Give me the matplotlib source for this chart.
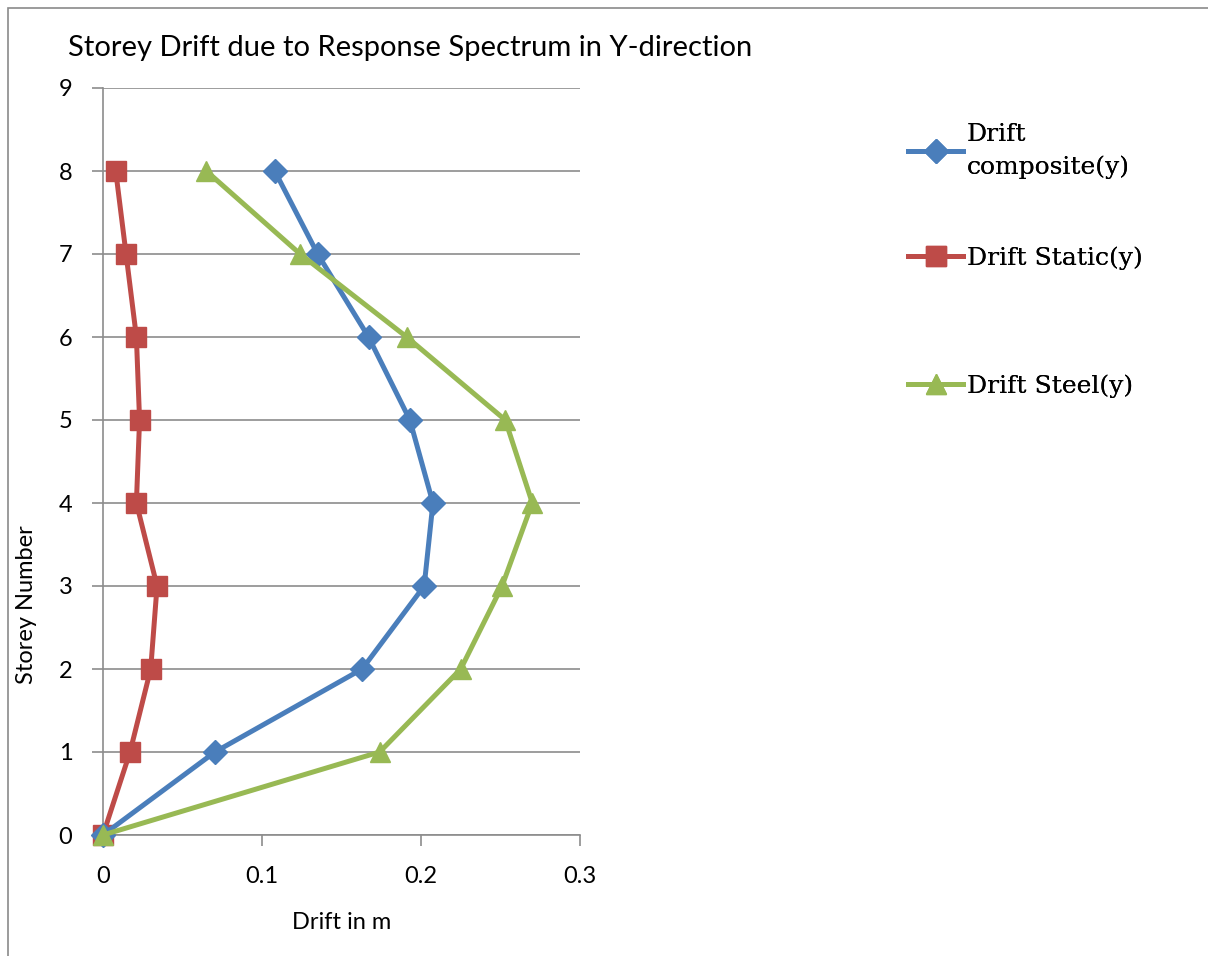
import matplotlib
matplotlib.use("Agg")
import matplotlib.pyplot as plt
from matplotlib.patches import Rectangle

storeys = [0, 1, 2, 3, 4, 5, 6, 7, 8]
drift_composite = [0.0, 0.0704, 0.163, 0.202, 0.2075, 0.193, 0.167, 0.135, 0.108]
drift_static = [0.0, 0.017, 0.030, 0.034, 0.021, 0.023, 0.021, 0.0145, 0.008]
drift_steel = [0.0, 0.174, 0.225, 0.251, 0.270, 0.253, 0.191, 0.124, 0.065]
x_ticks = [0, 0.1, 0.2, 0.3]
x_tick_labels = ["0", "0.1", "0.2", "0.3"]
y_ticks = list(range(10))

W, H = 1208, 956
fig = plt.figure(figsize=(W / 100, H / 100), dpi=100)
fig.patch.set_facecolor("white")
fig.patches.append(Rectangle((8 / W, -0.1), 1.2, 1 - 8 / H + 0.1, transform=fig.transFigure,
                             fill=False, edgecolor="#8a8a8a", linewidth=1.2))

ax = fig.add_axes([103 / W, 1 - 835 / H, (580 - 103) / W, (835 - 88) / H])
sans = ["Lato", "DejaVu Sans"]
serif = ["DejaVu Serif"]

l1, = ax.plot(drift_composite, storeys, color="#4A7EBB", lw=3.6, marker="D", ms=12,
              label="Drift\ncomposite(y)", zorder=4, clip_on=False)
l2, = ax.plot(drift_static, storeys, color="#BE4B48", lw=3.6, marker="s", ms=14,
              label="Drift Static(y)", zorder=3, clip_on=False)
l3, = ax.plot(drift_steel, storeys, color="#98B954", lw=3.6, marker="^", ms=15,
              label="Drift Steel(y)", zorder=5, clip_on=False)

ax.set_xlim(0, 0.3)
ax.set_ylim(0, 9)
ax.set_xticks(x_ticks)
ax.set_xticklabels(x_tick_labels)
ax.set_yticks(y_ticks)
ax.grid(axis="y", color="#8c8c8c", lw=1.2)
ax.set_axisbelow(True)
for s in ["top", "right"]:
    ax.spines[s].set_visible(False)
for s in ["left", "bottom"]:
    ax.spines[s].set_color("#8c8c8c")
    ax.spines[s].set_linewidth(1.2)
ax.tick_params(axis="both", colors="#8c8c8c", length=8, width=1.2, labelcolor="black",
               labelsize=17)
ax.tick_params(axis="x", pad=14)
ax.tick_params(axis="y", pad=14)
for lab in ax.get_xticklabels() + ax.get_yticklabels():
    lab.set_family(sans)

ax.set_xlabel("Drift in m", fontsize=17, family=sans)
ax.xaxis.set_label_coords((342 - 103) / 477, -(912 - 835) / 747)
ax.set_ylabel("Storey Number", fontsize=17, family=sans)
ax.yaxis.set_label_coords((37 - 103) / 477, (835 - 605) / 747)
fig.text(68 / W, 1 - 48 / H, "Storey Drift due to Response Spectrum in Y-direction",
         fontsize=21, family=sans, va="center", ha="left")

for handle, yc in [(l1, 151), (l2, 258), (l3, 386)]:
    lg = fig.legend(handles=[handle], loc="center left",
                    bbox_to_anchor=(908 / W, 1 - yc / H),
                    frameon=False, prop={"family": serif, "size": 18},
                    handlelength=2.2, handletextpad=0.15, borderaxespad=0, borderpad=0)
    for t in lg.get_texts():
        t.set_linespacing(1.55)
    fig.add_artist(lg)

fig.savefig("out.png", dpi=100)
